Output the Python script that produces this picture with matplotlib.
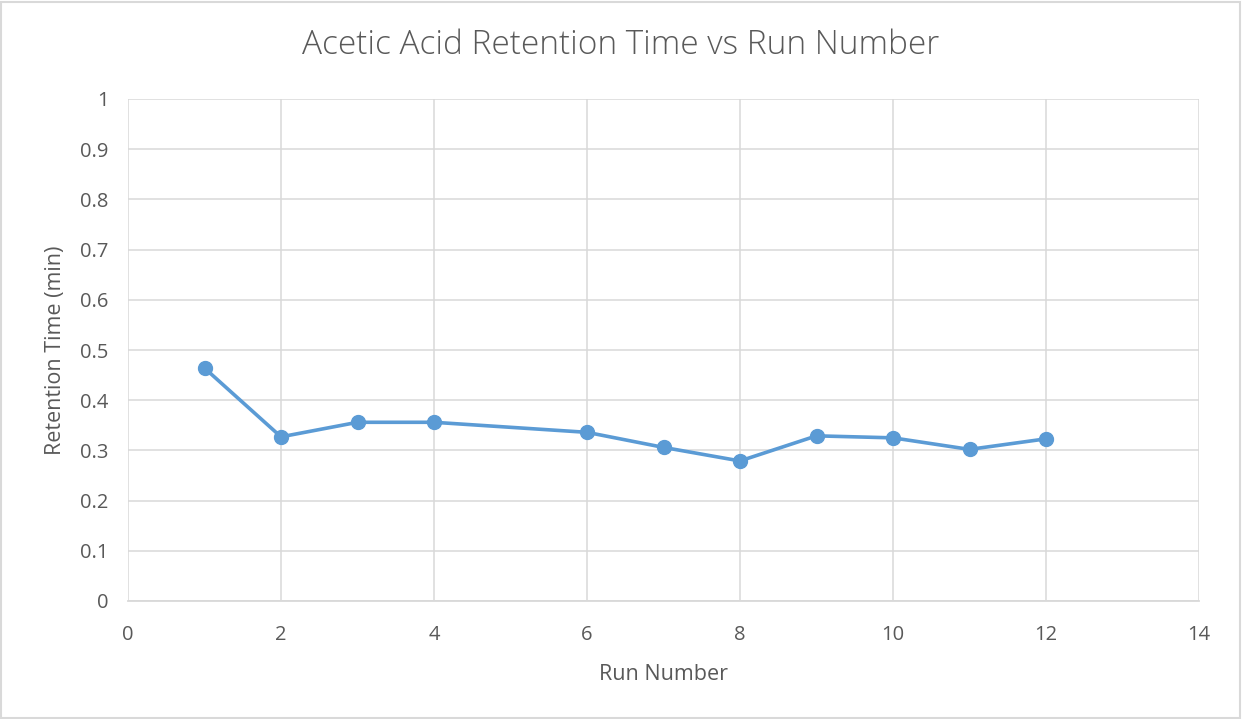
import matplotlib
matplotlib.use("Agg")
import matplotlib.pyplot as plt
from matplotlib.patches import Rectangle

plt.rcParams['font.family'] = ['Open Sans', 'DejaVu Sans']

runs = [1, 2, 3, 4, 6, 7, 8, 9, 10, 11, 12]
retention = [0.464, 0.327, 0.356, 0.356, 0.336, 0.306, 0.279, 0.329, 0.325, 0.302, 0.323]
x_ticks = [0, 2, 4, 6, 8, 10, 12, 14]
y_ticks = [0, 0.1, 0.2, 0.3, 0.4, 0.5, 0.6, 0.7, 0.8, 0.9, 1]
y_tick_labels = ['0', '0.1', '0.2', '0.3', '0.4', '0.5', '0.6', '0.7', '0.8', '0.9', '1']

W, H = 1242, 719
fig = plt.figure(figsize=(W / 100, H / 100), dpi=100)
ax = fig.add_axes([128 / W, 1 - 601 / H, (1199 - 128) / W, (601 - 99) / H])

text_color = '#595959'
grid_color = '#d9d9d9'
line_color = '#5b9bd5'

ax.plot(runs, retention, color=line_color, linewidth=2.6, marker='o',
        markersize=10, markerfacecolor=line_color, markeredgecolor=line_color,
        zorder=3, clip_on=False)

ax.set_xlim(0, 14)
ax.set_ylim(0, 1)
ax.set_xticks(x_ticks)
ax.set_yticks(y_ticks)
ax.set_yticklabels(y_tick_labels)
ax.grid(True, color=grid_color, linewidth=1.1)
ax.set_axisbelow(True)

for side in ['top', 'right', 'left']:
    ax.spines[side].set_visible(False)
ax.spines['bottom'].set_color(grid_color)
ax.spines['bottom'].set_linewidth(1.3)

ax.tick_params(axis='both', length=0, labelsize=14.5, labelcolor=text_color)
ax.tick_params(axis='x', pad=17)
ax.tick_params(axis='y', pad=14)

ax.set_xlabel('Run Number', fontsize=15.5, color=text_color, labelpad=14)
ax.set_ylabel('Retention Time (min)', fontsize=15.5, color=text_color, labelpad=10)

fig.text(0.5, 1 - 45 / H, 'Acetic Acid Retention Time vs Run Number',
         ha='center', va='center', fontsize=24, color=text_color,
         fontweight='light')

fig.patches.append(Rectangle((1 / W, 1 / H), 1 - 3 / W, 1 - 3 / H,
                             transform=fig.transFigure, fill=False,
                             edgecolor='#d9d9d9', linewidth=1.5))

fig.savefig('out.png', dpi=100)
